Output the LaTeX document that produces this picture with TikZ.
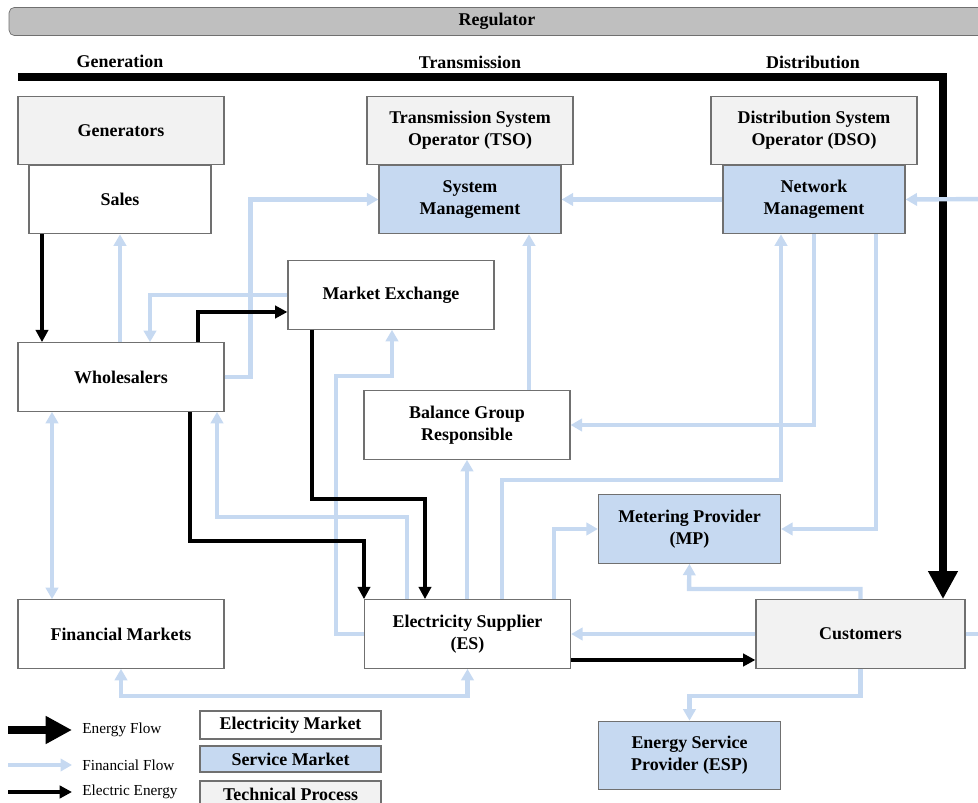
\documentclass[tikz,border=0pt]{standalone}
\usepackage{fontspec}
\setmainfont{Liberation Serif}
\usetikzlibrary{arrows.meta}
\definecolor{svcblue}{HTML}{C6D9F1}
\definecolor{finblue}{HTML}{C6D9F1}
\definecolor{techgray}{HTML}{F2F2F2}
\definecolor{reggray}{HTML}{BFBFBF}
\definecolor{boxline}{HTML}{707070}

\begin{document}
\begin{tikzpicture}[x=0.02cm,y=-0.02cm,
	box/.style={draw=boxline,line width=0.7pt,fill=white,align=center,font=\bfseries\fontsize{10.2}{12.5}\selectfont,minimum height=1.37cm},
	wide/.style={box,minimum width=4.12cm},
	narrow/.style={box,minimum width=3.64cm},
	service/.style={fill=svcblue},
	tech/.style={fill=techgray},
	fin/.style={draw=finblue,line width=2.5pt,-{Triangle[width=7pt,length=6.5pt]}},
	finboth/.style={fin,{Triangle[width=7pt,length=6.5pt]}-{Triangle[width=7pt,length=6.5pt]}},
	elec/.style={draw=black,line width=2pt,-{Triangle[width=7pt,length=7pt]}},
	energy/.style={draw=black,line width=5pt,-{Triangle[width=16pt,length=16pt]}},
	heading/.style={font=\bfseries\fontsize{10.2}{12.5}\selectfont},
	legtxt/.style={anchor=west,inner xsep=0.2cm,font=\fontsize{8.7}{10}\selectfont},
	legbox/.style={box,minimum width=3.62cm,minimum height=0.52cm}]
	\useasboundingbox (0,0) rectangle (978,803);
	\clip (0,0) rectangle (978,803);
	
	%regulator and headings
	\node[draw=boxline,fill=reggray,rounded corners=3pt,minimum width=19.52cm,minimum height=0.5cm,heading] (reg) at (497,21.5) {Regulator};
	\node[heading] (genlab) at (120,61) {Generation}; 
	\node[heading] (translab) at (470,62) {Transmission}; 
	\node[heading] (distlab) at (813,62) {Distribution}; 
	
	%boxes-------------------------------------
		\node[wide,tech] (gen) at (121,130.5) {Generators};
		\node[narrow] (sales) at (120,199.5) {Sales};
		\node[wide,tech] (tso) at (470,130.5) {Transmission System\\Operator (TSO)};
		\node[narrow,service] (sysman) at (470,199.5) {System\\Management};
		\node[wide,tech] (dso) at (814,130.5) {Distribution System\\Operator (DSO)};
		\node[narrow,service] (netman) at (814,199.5) {Network\\Management};
		\node[wide] (mex) at (391,295) {Market Exchange};
		\node[wide] (whole) at (121,377) {Wholesalers};
		\node[wide] (bgr) at (467,425) {Balance Group\\Responsible};
		\node[narrow,service] (mp) at (689.5,529) {Metering Provider\\(MP)};
		\node[wide] (finm) at (121,634) {Financial Markets};
		\node[wide] (es) at (467.5,634) {Electricity Supplier\\(ES)};
		\node[wide,tech,minimum width=4.18cm] (cust) at (860.5,634) {Customers};
		\node[narrow,service] (esp) at (689.5,755.5) {Energy Service\\Provider (ESP)};
	
	%energy flow
	\coordinate (egrid) at (18,77);
	\draw[energy] (egrid) -| (cust.north -| 943,0); %grid to customers
	
	%financial flows---------------------------
		\draw[fin] (whole.north -| sales.south) -- (sales.south); %wholesalers to sales
		\draw[fin] (whole.east) -- ++(26,0) |- (sysman.west); %wholesalers to TSO
		\draw[fin] (mex.west) -| (whole.north -| 150,0); %exchange to wholesalers
		\draw[finboth] (whole.south -| 52,0) -- (finm.north -| 52,0); %financial markets
		\draw[fin] (es.north -| 407,0) |- (217,517) -- (whole.south -| 217,0); %ES to wholesalers
		\draw[fin] (es.west) -| (336,376) -| (mex.south -| 392,0); %ES to exchange
		\draw[fin] (es.north -| bgr.south) -- (bgr.south); %ES to BGR
		\draw[fin] (bgr.north -| 529,0) -- (sysman.south -| 529,0); %BGR to TSO
		\draw[fin] (es.north -| 502,0) |- (781,480) -- (netman.south -| 781,0); %ES to DSO
		\draw[fin] (netman.south) |- (bgr.east); %DSO to BGR
		\draw[fin] (netman.south -| 876,0) |- (mp.east); %DSO to MP
		\draw[fin] (es.north -| 554,0) |- (mp.west); %ES to MP
		\draw[fin] (cust.north) |- (689,589) -- (mp.south); %customers to MP
		\draw[fin] (cust.west) -- (es.east); %customers to ES
		\draw[fin] (cust.south) -- ++(0,27) -| (esp.north); %customers to ESP
		\draw[fin] (netman.west) -- (sysman.east); %DSO to TSO
		\draw[finboth] (finm.south) -- ++(0,27) -| (es.south); %financial markets to ES
		\coordinate (rcust) at (990,634);
		\coordinate (rnet) at (990,199);
		\draw[fin,-] (cust.east) -- (rcust); %out right
		\draw[fin] (rnet) -- (netman.east); %in right
	
	%electric energy---------------------------
		\draw[elec] (sales.south -| 42,0) -- (whole.north -| 42,0); %sales to wholesalers
		\draw[elec] (whole.north -| 198,0) |- (mex.west |- 0,312); %wholesalers to exchange
		\draw[elec] (whole.south -| 190,0) |- (364,541) -- (es.north -| 364,0); %wholesalers to ES
		\draw[elec] (mex.south -| 312,0) |- (425,499) -- (es.north -| 425,0); %exchange to ES
		\draw[elec] (es.east |- 0,660) -- (cust.west |- 0,660); %ES to customers
	
	%legend------------------------------------
		\coordinate (lgE) at (8,730);
		\coordinate (lgF) at (8,765);
		\coordinate (lgX) at (8,792);
		\node[legtxt] (lgEtxt) at (72,730) {Energy Flow};
		\node[legtxt] (lgFtxt) at (72,765) {Financial Flow};
		\node[legtxt] (lgXtxt) at (72,792) {Electric Energy};
		\draw[energy,line width=4.5pt,-{Triangle[width=15pt,length=15pt]}] (lgE) -- (lgEtxt.west);
		\draw[fin] (lgF) -- (lgFtxt.west);
		\draw[elec] (lgX) -- (lgXtxt.west);
		\node[legbox] (elm) at (290.5,725) {Electricity Market};
		\node[legbox,service] (svm) at (290.5,759) {Service Market};
		\node[legbox,tech] (tcp) at (290.5,794) {Technical Process};
\end{tikzpicture}
\end{document}
